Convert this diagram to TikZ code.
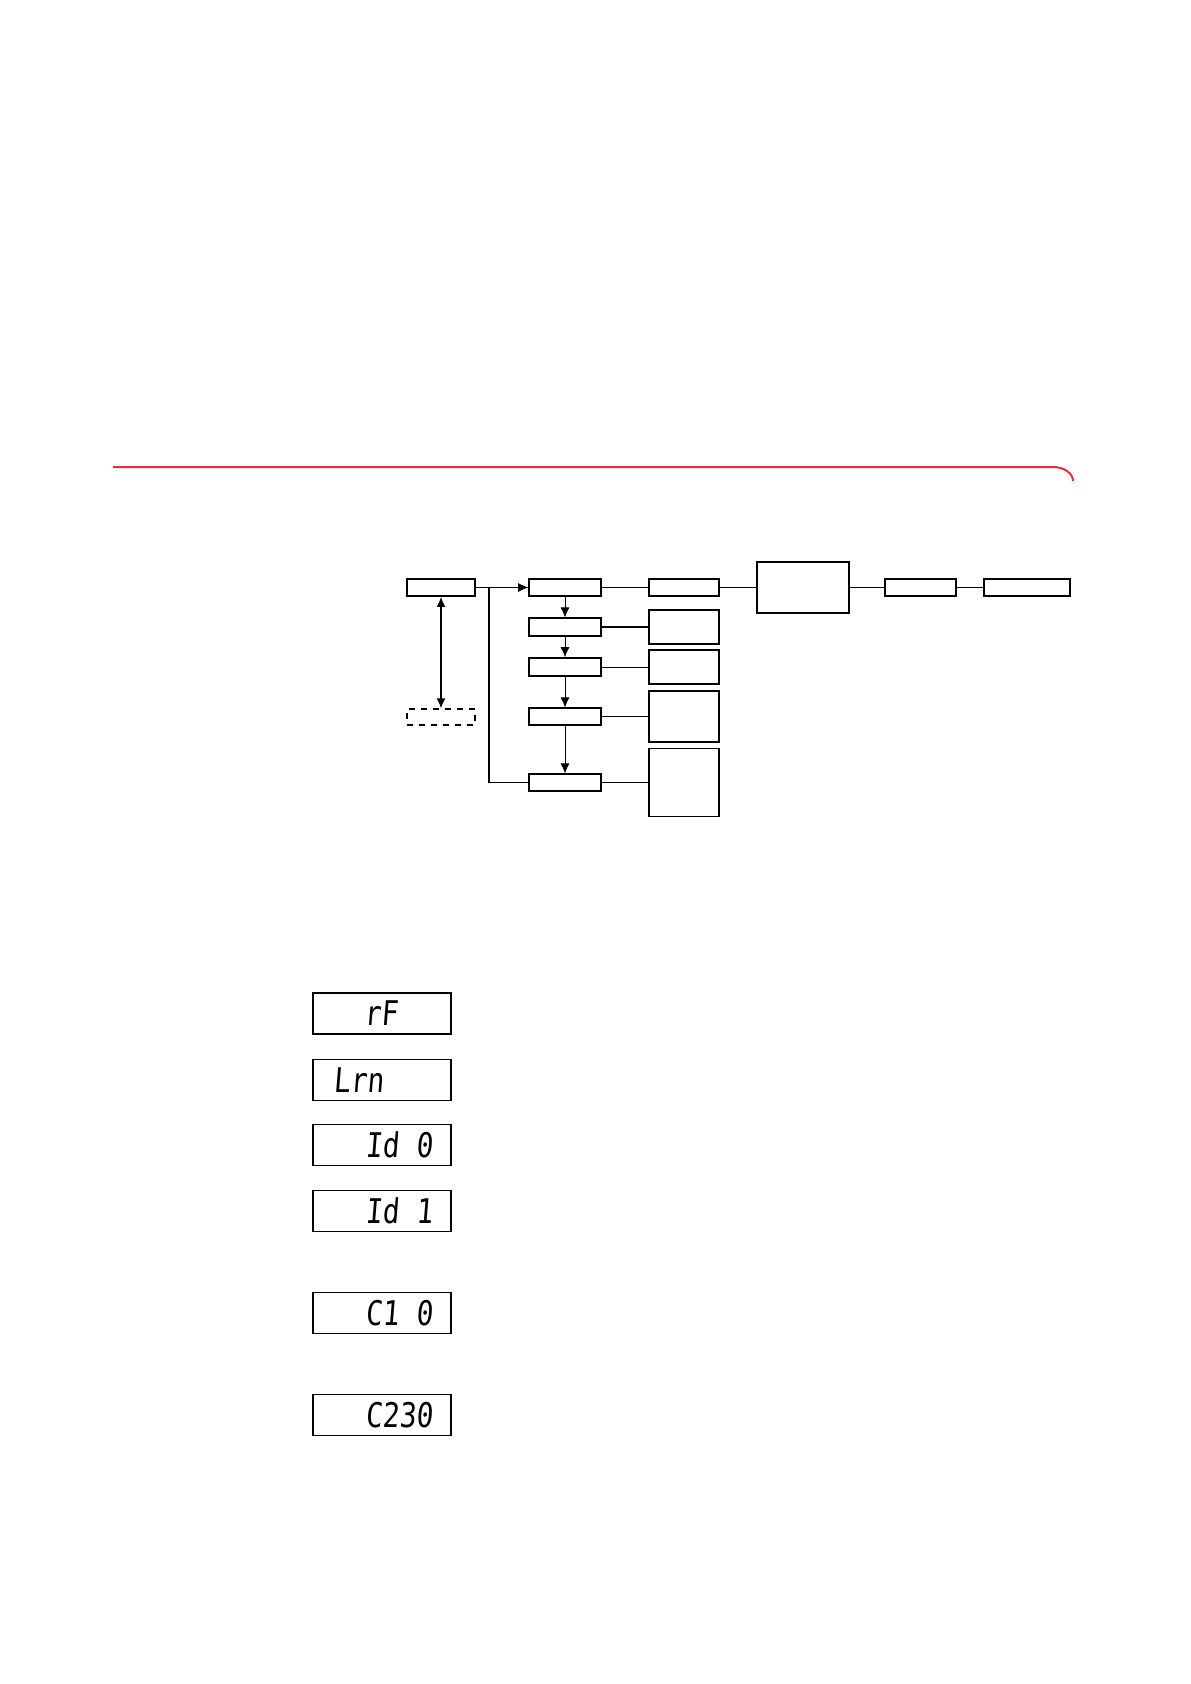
\documentclass[tikz,border=0pt]{standalone}
\usepackage{fontspec}
\setmonofont{DejaVu Sans Mono}[FakeStretch=0.82, FakeSlant=0.08]
\usetikzlibrary{arrows.meta, positioning}
\definecolor{ManualRed}{HTML}{E2303C}

\begin{document}
\begin{tikzpicture}[
    x=0.5pt, y=-0.5pt,
    blk/.style={draw, line width=0.8pt, inner sep=0pt},
    thinblk/.style={blk, line width=0.55pt},
    link/.style={line width=0.4pt},
    flow/.style={link, -{Latex[length=5pt,width=4.5pt]}},
    lcd/.style={draw, line width=0.6pt, minimum width=69pt, minimum height=20.5pt, inner sep=0pt},
    seg/.style={font=\ttfamily\fontsize{17}{17}\selectfont, inner sep=0pt}
]
\useasboundingbox (0,0) rectangle (1190,1684);
\draw[ManualRed, line width=1pt] (113,467) -- (1053,467) arc[start angle=-90, end angle=0, x radius=20, y radius=14];

\node[blk, minimum width=34pt, minimum height=8.5pt] (main) at (441,587.5) {};
\node[draw, dashed, line width=0.6pt, minimum width=34pt, minimum height=8pt] (aux) at (441,717) {};
\node[blk, minimum width=36pt, minimum height=8.5pt] (step1) at (565,587.5) {};
\node[thinblk, minimum width=36pt, minimum height=9pt] (step2) at (565,627) {};
\node[blk, minimum width=36pt, minimum height=9pt] (step3) at (565,667) {};
\node[thinblk, minimum width=36pt, minimum height=8.5pt] (step4) at (565,716.5) {};
\node[thinblk, minimum width=36pt, minimum height=8.5pt] (step5) at (565,782.5) {};
\node[blk, minimum width=35pt, minimum height=8.5pt] (info1) at (684,587.5) {};
\node[blk, minimum width=35pt, minimum height=17pt] (info2) at (684,627) {};
\node[thinblk, minimum width=35pt, minimum height=17pt] (info3) at (684,667) {};
\node[thinblk, minimum width=35pt, minimum height=25.5pt] (info4) at (684,716.5) {};
\node[blk, minimum width=35pt, minimum height=34pt] (info5) at (684,782.5) {};
\node[blk, minimum width=46pt, minimum height=25.5pt] (unit) at (803,587.5) {};
\node[blk, minimum width=35.5pt, minimum height=8.5pt] (out1) at (920.5,587.5) {};
\node[blk, minimum width=43pt, minimum height=8.5pt] (out2) at (1027,587.5) {};
\coordinate (split) at (489,587.5);

\draw[line width=0.8pt, {Latex[length=5pt,width=4.5pt]}-{Latex[length=5pt,width=4.5pt]}] (main) -- (aux);
\draw[link] (main) -- (split);
\draw[flow] (split) -- (step1);
\draw[link, line width=0.7pt] (split) |- (step5);
\foreach \a/\b in {1/2, 2/3, 3/4, 4/5}
    \draw[flow] (step\a) -- (step\b);
\draw[link] (step1) -- (info1);
\draw[link, line width=0.7pt] (step2) -- (info2);
\draw[link] (step3) -- (info3);
\draw[link] (step4) -- (info4);
\draw[link, line width=0.7pt] (step5) -- (info5);
\draw[link] (info1) -- (unit);
\draw[link] (unit) -- (out1);
\draw[link] (out1) -- (out2);

\node[lcd] (lcd1) at (382,1013.5) {};
\node[lcd] (lcd2) at (382,1080) {};
\node[lcd] (lcd3) at (382,1145) {};
\node[lcd] (lcd4) at (382,1211) {};
\node[lcd] (lcd5) at (382,1313) {};
\node[lcd] (lcd6) at (382,1415) {};
\node[seg, anchor=base east] (rf) at (398,1025.5) {rF};
\node[seg, anchor=base west] (lrn) at (333,1092) {Lrn};
\node[seg, anchor=base east] (id0) at (433,1157) {Id 0};
\node[seg, anchor=base east] (id1) at (433,1223) {Id 1};
\node[seg, anchor=base east] (c10) at (433,1325) {C1 0};
\node[seg, anchor=base east] (c230) at (433,1427) {C230};
\end{tikzpicture}
\end{document}
